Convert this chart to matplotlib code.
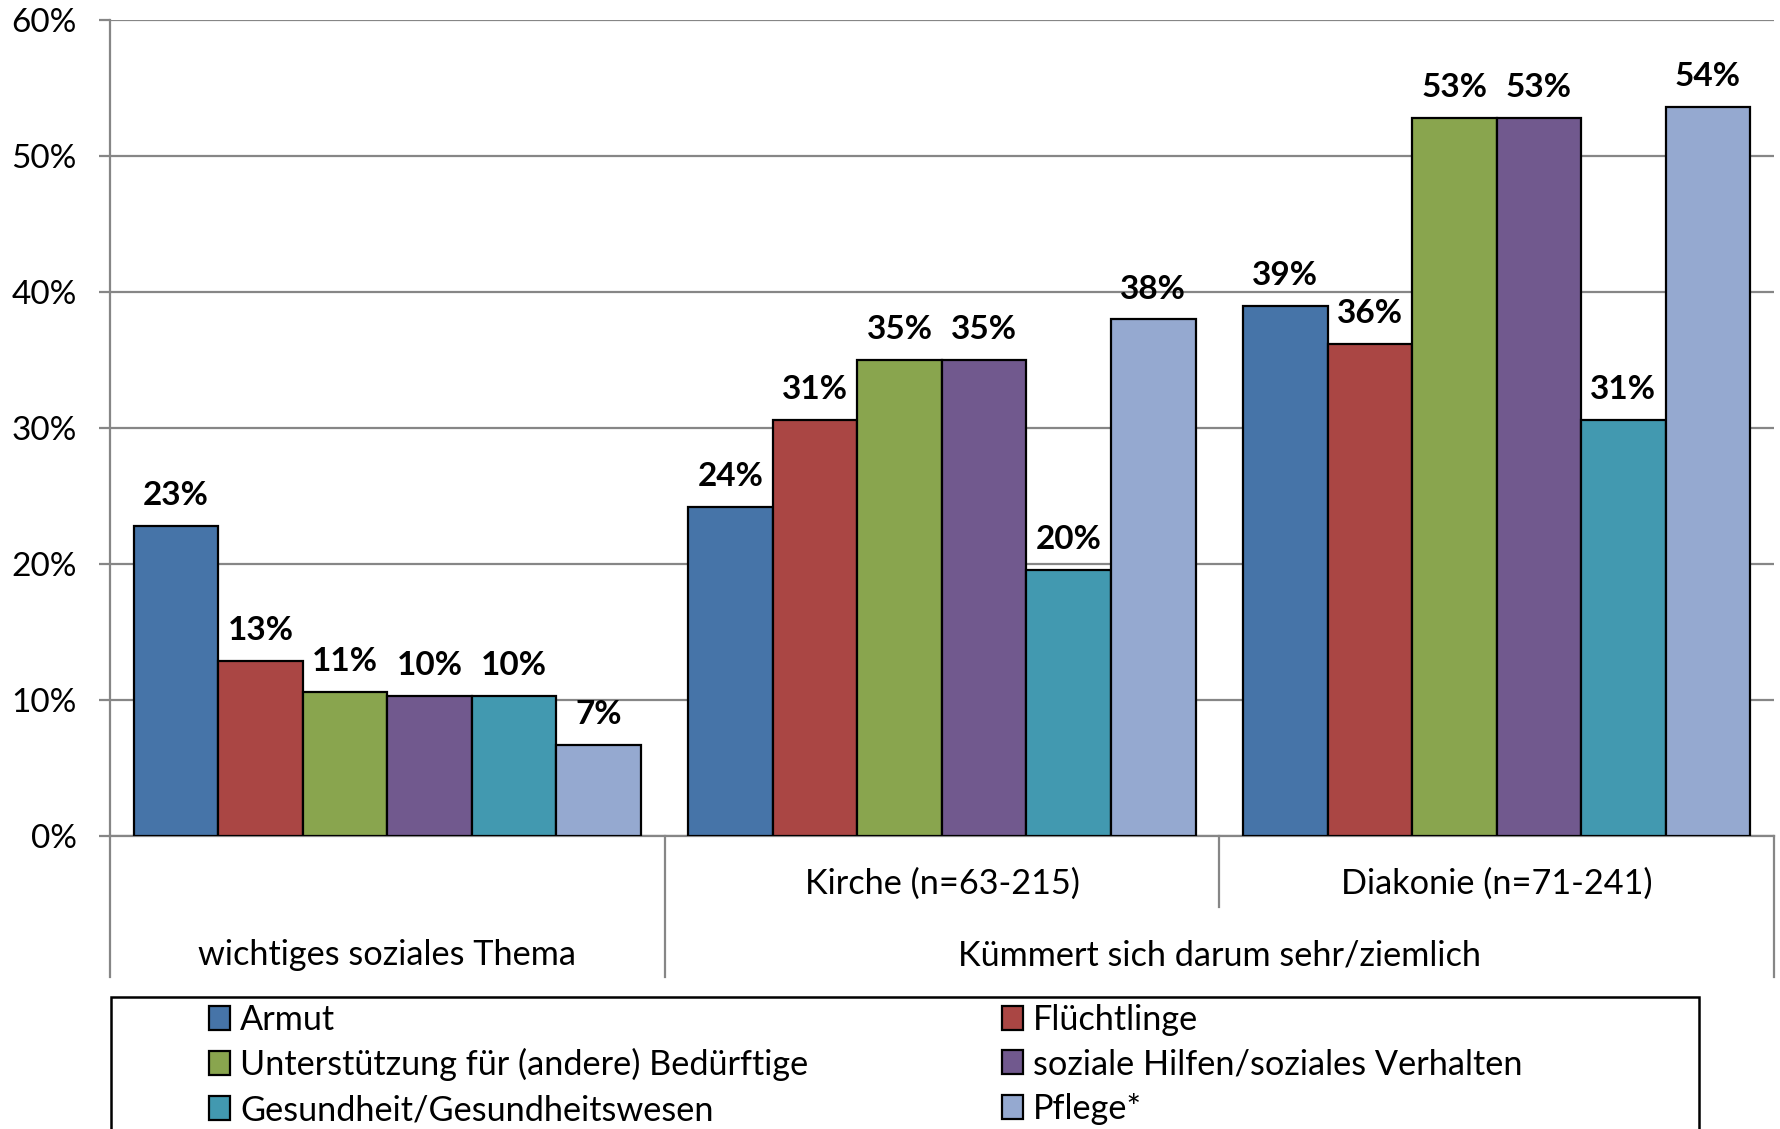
import matplotlib
matplotlib.use("Agg")
import matplotlib.pyplot as plt
import matplotlib.transforms as mtransforms
from matplotlib.patches import Rectangle, Patch
import numpy as np

plt.rcParams["font.family"] = ["Lato", "DejaVu Sans"]

# Kategorien und Werte (Anteile in Prozent)
groups = ["", "Kirche (n=63-215)", "Diakonie (n=71-241)"]
upper_groups = ["wichtiges soziales Thema", "Kümmert sich darum sehr/ziemlich"]
series = ["Armut", "Flüchtlinge", "Unterstützung für (andere) Bedürftige",
          "soziale Hilfen/soziales Verhalten", "Gesundheit/Gesundheitswesen", "Pflege*"]
armut = [22.8, 24.2, 39.0]
fluechtlinge = [12.9, 30.6, 36.2]
unterstuetzung = [10.6, 35.0, 52.8]
soziale_hilfen = [10.3, 35.0, 52.8]
gesundheit = [10.3, 19.6, 30.6]
pflege = [6.7, 38.0, 53.6]
values = [armut, fluechtlinge, unterstuetzung, soziale_hilfen, gesundheit, pflege]
colors = ["#4674A8", "#AA4644", "#89A54E", "#71598E", "#4299B0", "#95A9D0"]

FS = 24
FS_TXT = 24.7

fig = plt.figure(figsize=(17.81, 11.29), dpi=100)
ax = fig.add_axes([0.0618, 0.2595, 0.9342, 0.7225])

x = np.arange(len(groups))
bw = 0.1524
offsets = (np.arange(len(series)) - 2.5) * bw
for vals, off, c, name in zip(values, offsets, colors, series):
    bars = ax.bar(x + off, vals, bw, color=c, edgecolor="black", linewidth=1.6,
                  label=name, zorder=3)
    for b, v in zip(bars, vals):
        ax.annotate(f"{v:.0f}%", (b.get_x() + b.get_width() / 2, v),
                    xytext=(0, 15), textcoords="offset points",
                    ha="center", va="baseline", fontsize=FS, fontweight="bold")

ax.set_xlim(-0.5, 2.5)
ax.set_ylim(0, 60)
ax.set_yticks(range(0, 61, 10))
ax.set_yticklabels([f"{t}%" for t in range(0, 61, 10)], fontsize=FS)
ax.yaxis.grid(True, color="#868686", linewidth=1.6, zorder=0)
ax.tick_params(axis="y", length=8, width=1.6, color="#868686", pad=16)
ax.set_xticks([])
for s in ["top", "right"]:
    ax.spines[s].set_visible(False)
for s in ["left", "bottom"]:
    ax.spines[s].set_color("#868686")
    ax.spines[s].set_linewidth(1.6)

# zweistufige Kategorienbeschriftung unterhalb der Achse
trans = mtransforms.blended_transform_factory(ax.transData, ax.transAxes)
for xb, y_end in [(-0.5, -0.173), (0.5, -0.173), (1.5, -0.0864), (2.5, -0.173)]:
    ax.plot([xb, xb], [0, y_end], transform=trans, color="#868686",
            linewidth=1.6, clip_on=False)
for xi, g in zip(x, groups):
    ax.text(xi, -0.0585, g, transform=trans, ha="center", va="center", fontsize=FS_TXT)
ax.text(0, -0.146, upper_groups[0], transform=trans, ha="center", va="center", fontsize=FS_TXT)
ax.text(1.5, -0.146, upper_groups[1], transform=trans, ha="center", va="center", fontsize=FS_TXT)

# Legende mit Rahmen, der über den unteren Rand hinausläuft
fig.patches.append(Rectangle((0.0625, -0.1), 0.8915, 0.217, transform=fig.transFigure,
                             fill=False, edgecolor="black", linewidth=1.8))
handles = [Patch(facecolor=c, edgecolor="black", linewidth=1.6) for c in colors]
for col, x0 in [(0, 0.1176), (1, 0.5626)]:
    idx = [col, col + 2, col + 4]
    fig.legend([handles[i] for i in idx], [series[i] for i in idx],
               loc="upper left", bbox_to_anchor=(x0, 0.111), frameon=False,
               fontsize=FS_TXT, handlelength=0.6, handleheight=0.7,
               handletextpad=0.3, labelspacing=0.37, borderpad=0, borderaxespad=0)

fig.savefig("out.png", dpi=100)
